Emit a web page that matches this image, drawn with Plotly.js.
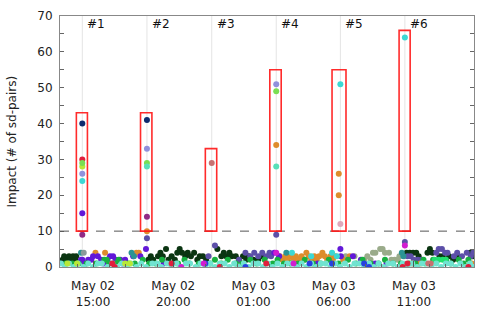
<!DOCTYPE html>
<html><head><meta charset="utf-8">
<script src="https://cdn.plot.ly/plotly-3.0.1.min.js"></script>
<style>html,body{margin:0;padding:0;background:#fff}#c{width:498px;height:317px}</style>
</head><body><div id="c"></div>
<script>
// hours since May 02 00:00
const eventH = [14.33, 18.36, 22.40, 26.42, 30.42, 34.44];
const eventLabels = ['#1','#2','#3','#4','#5','#6'];
const winStart = [13.96, 17.96, 22.00, 26.02, 29.90, 34.08];
const winEnd   = [14.65, 18.67, 22.71, 26.73, 30.77, 34.77];
const winTop   = [43, 43, 33, 55, 55, 66];
const threshold = 10;
const tickH = [15, 20, 25, 30, 35];
const tickLabels = ['May 02<br>15:00','May 02<br>20:00','May 03<br>01:00','May 03<br>06:00','May 03<br>11:00'];

const darkH = [13.1,13.2,13.35,13.5,13.6,13.75,13.9,13.95,18.45,18.6,18.75,19.05,19.2,19.35,19.55,19.7,19.9,20.1,20.25,20.4,20.55,20.75,20.9,21.1,21.3,21.5,21.65,21.85,22.05,22.75,23.0,23.15,23.3,23.5,23.65,23.9,24.1,24.35,24.55,24.7,25.0,25.3,25.55,34.55,34.75,34.95,35.15,35.3,35.85,36.0,36.15,36.6,36.8,37.0,37.2,37.45,37.7,38.5,38.65,38.75];
const darkV = [2,3,2,3,2,3,2,3,2,3,2,3,4,3,5,2,3,2,4,5,4,3,4,3,4,2,3,3,2,5,3,4,3,4,3,3,2,3,2,3,2,2,3,4,4,4,4,3,4,5,4,3,3,2,3,2,3,4,3,4];

const slateH = [18.36,22.2,22.6,24.1,24.5,24.8,25.05,25.3,25.55,25.8,26.0,26.1,26.42,34.44,34.6,34.8,35.0,35.25,35.5,36.4,36.55,36.75,36.95,37.1,37.5,37.7,38.0,38.3,38.55,38.7];
const slateV = [8,3,6,2,4,3,4,3,4,3,4,3,9,7,3,3,2,2,2,4,5,5,4,4,3,4,3,4,3,4];

const grayGreenH = [30.75,31.3,31.9,32.1,32.3,32.45,32.6,32.9,33.05,33.2,33.45,33.6,33.8,34.0,34.1];
const grayGreenV = [3,3,2,3,2,4,4,5,5,4,4,2,2,2,3];

const orangeH = [15.15,15.75,17.7,17.85,18.36,26.42,26.65,26.8,27.0,27.15,27.3,27.5,27.65,27.8,28.0,28.15,28.3,28.45,28.6,28.8,28.95,29.1,29.3,29.45,29.6,29.8,29.95,30.1,30.32,30.32,30.6,31.0,34.9,35.4,38.6];
const orangeV = [4,4,4,4,10,34,3,2,3,2,3,2,3,2,3,2,4,3,2,3,2,3,4,3,2,3,2,3,26,20,2,3,1,1,1];

const purpleH = [14.25,14.33,14.33,14.5,14.7,14.9,15.0,15.3,15.5,15.65,15.9,16.06,16.25,16.4,16.7,16.85,17.0,17.5,17.95,18.3,19.4,26.3,26.6,29.0,30.42,30.45,31.2,31.7,32.6,33.3];
const purpleV = [2,15,2,1,2,2,3,3,2,1,2,3,3,2,2,1,2,3,3,5,1,4,3,1,5,3,3,2,1,1];

const tealH = [14.25,17.4,17.55,27.05,34.25,34.35];
const tealV = [4,4,3,4,4,3];
const grayH = [14.42];
const grayV = [4];

const turqH = [14.33,27.4,28.6,29.9,30.2,30.42,34.44];
const turqV = [24,4,3,4,3,51,64];

const greenH = [13.3,13.7,14.1,14.6,15.2,15.7,15.85,16.0,16.4,16.6,17.2,17.6,18.1,18.5,18.9,19.3,19.8,20.3,20.7,21.0,21.6,22.3,22.6,23.0,23.4,23.9,24.3,24.8,25.2,25.7,26.2,26.5,26.9,27.3,27.8,28.2,28.7,29.2,29.7,30.3,30.9,31.4,31.8,32.3,32.8,33.2,33.7,34.2,34.7,35.1,35.6,36.2,37.3,37.8,38.1,38.4];
const greenV = [1,1,1,1,1,2,2,1,1,2,1,1,2,1,1,2,1,1,2,1,1,1,2,1,2,1,1,2,1,2,1,2,1,1,1,2,1,1,2,1,2,1,2,1,1,2,1,1,1,1,2,2,1,2,1,2];

const limeH = [35.7,36.3,36.55,36.8,37.0];
const limeV = [1,2,2,2,2];

const aquaH = [13.0,13.25,13.5,13.8,14.05,14.4,14.7,15.0,15.3,15.55,15.9,16.2,16.5,16.8,17.1,17.35,17.7,18.0,18.3,18.7,19.0,19.25,19.6,19.9,20.2,20.5,20.8,21.05,21.4,21.7,22.0,22.3,22.6,22.9,23.2,23.5,23.8,24.1,24.4,24.7,25.0,25.3,25.6,25.9,26.2,26.5,26.8,27.1,27.4,27.7,28.0,28.3,28.6,28.9,29.2,29.5,29.8,30.1,30.4,30.7,31.0,31.3,31.6,31.9,32.2,32.5,32.8,33.1,33.4,33.7,34.0,34.3,34.6,34.9,35.2,35.5,35.8,36.1,36.4,36.7,37.0,37.3,37.6,37.9,38.2,38.5,38.7];
const aquaV = [1,0,1,0,1,0,1,0,1,1,0,1,0,1,0,1,0,1,0,1,1,0,1,0,1,0,1,1,0,1,0,1,0,1,1,0,1,0,1,0,1,1,0,1,0,1,0,1,1,0,1,0,1,0,1,1,0,1,0,1,0,1,1,0,1,0,1,0,1,1,0,1,0,1,0,1,1,0,1,0,1,1,0,1,0,1,0];

const redH = [14.33,16.2,16.35,19.9,22.9,25.8,34.3,34.6,38.4];
const redV = [30,1,0,1,0,1,0,1,0];
const blueH = [22.0,24.5,28.5,29.9,31.9,32.2];
const blueV = [1,0,1,1,1,0];
const magentaH = [20.5,21.9,26.42,27.5,34.44];
const magentaV = [0,1,4,1,6];
const yellowH = [13.4,14.0,14.33,17.0,17.3];
const yellowV = [1,1,28,1,1];
const roseH = [22.40,35.9,36.05];
const roseV = [29,1,1];
const navyH = [14.33,18.36];
const navyV = [40,41];
const lavenderH = [14.33,18.36,26.42];
const lavenderV = [26,33,51];
const lightGreenH = [14.33,18.36,26.42];
const lightGreenV = [29,29,49];
const aquamarineH = [18.36,26.42];
const aquamarineV = [28,28];
const plumH = [14.33,18.36];
const plumV = [9,14];
const pinkH = [30.42];
const pinkV = [12];

const series = [
  {h:darkH, v:darkV, c:'#0b3512'},
  {h:slateH, v:slateV, c:'#5c4fa8'},
  {h:grayGreenH, v:grayGreenV, c:'#9aab8a'},
  {h:orangeH, v:orangeV, c:'#de8c2c'},
  {h:purpleH, v:purpleV, c:'#6218d8'},
  {h:tealH, v:tealV, c:'#2a9494'},
  {h:grayH, v:grayV, c:'#8a9a9a'},
  {h:greenH, v:greenV, c:'#18b040'},
  {h:limeH, v:limeV, c:'#22e070'},
  {h:aquaH, v:aquaV, c:'#70e3d0'},
  {h:turqH, v:turqV, c:'#3cd8d4'},
  {h:redH, v:redV, c:'#e01e3c'},
  {h:blueH, v:blueV, c:'#2840e0'},
  {h:magentaH, v:magentaV, c:'#d21cd0'},
  {h:yellowH, v:yellowV, c:'#b8e838'},
  {h:roseH, v:roseV, c:'#c87070'},
  {h:navyH, v:navyV, c:'#0c2a6e'},
  {h:lavenderH, v:lavenderV, c:'#9090dc'},
  {h:lightGreenH, v:lightGreenV, c:'#7ade52'},
  {h:aquamarineH, v:aquamarineV, c:'#58e0b8'},
  {h:plumH, v:plumV, c:'#902a86'},
  {h:pinkH, v:pinkV, c:'#e0a8bc'}
];

function toDate(h){
  const d = new Date(Date.UTC(2023,4,2) + Math.round(h*3600000));
  const p = n => String(n).padStart(2,'0');
  return d.getUTCFullYear()+'-'+p(d.getUTCMonth()+1)+'-'+p(d.getUTCDate())+' '+p(d.getUTCHours())+':'+p(d.getUTCMinutes())+':'+p(d.getUTCSeconds());
}

const traces = series.map(s => ({
  type:'scatter', mode:'markers',
  x: s.h.map(toDate), y: s.v,
  marker:{color:s.c, size:6, line:{width:0}},
  hoverinfo:'skip', showlegend:false
}));

const shapes = [];
eventH.forEach(h => shapes.push({type:'line', xref:'x', yref:'paper', x0:toDate(h), x1:toDate(h), y0:0, y1:1, layer:'below', line:{color:'#e4e4e4', width:1}}));
shapes.push({type:'line', xref:'paper', yref:'y', x0:0, x1:1, y0:threshold, y1:threshold, line:{color:'#555', width:1, dash:'dash'}});
winStart.forEach((s,i) => shapes.push({type:'rect', xref:'x', yref:'y', x0:toDate(s), x1:toDate(winEnd[i]), y0:threshold, y1:winTop[i], line:{color:'rgba(255,20,20,0.9)', width:1.6}, fillcolor:'rgba(0,0,0,0)'}));

const annotations = eventH.map((h,i) => ({xref:'x', yref:'paper', x:toDate(h), y:0.968, text:eventLabels[i], showarrow:false, xanchor:'left', yanchor:'middle', xshift:3, font:{size:12, color:'#111'}}));
annotations.push({xref:'paper', yref:'paper', x:-0.116, y:0.5, text:'Impact (# of sd-pairs)', textangle:-90, showarrow:false, xanchor:'center', yanchor:'middle', font:{size:12, color:'#222'}});

const layout = {
  width:498, height:317,
  margin:{l:60, r:24, t:16, b:50},
  paper_bgcolor:'#fff', plot_bgcolor:'#fff',
  font:{family:'DejaVu Sans, sans-serif', size:12, color:'#222'},
  showlegend:false,
  xaxis:{type:'date', range:[toDate(12.94), toDate(38.75)], tickvals:tickH.map(toDate), ticktext:tickLabels,
    showgrid:false, zeroline:false, showline:true, linecolor:'#888', linewidth:1, mirror:true,
    ticks:'inside', ticklen:6, tickcolor:'#555', ticklabelstandoff:8,
    minor:{dtick:3600000, tick0:toDate(0), ticks:'inside', ticklen:3, tickcolor:'#666', showgrid:false}},
  yaxis:{range:[0,70], dtick:10, showgrid:false, zeroline:false, showline:true, linecolor:'#888', linewidth:1, mirror:'ticks',
    ticks:'inside', ticklen:4, tickcolor:'#666', ticklabelstandoff:4,
    minor:{dtick:5, ticks:'inside', ticklen:4, tickcolor:'#666', showgrid:false}},
  shapes:shapes, annotations:annotations
};
Plotly.newPlot('c', traces, layout, {staticPlot:true, displayModeBar:false});
</script></body></html>
